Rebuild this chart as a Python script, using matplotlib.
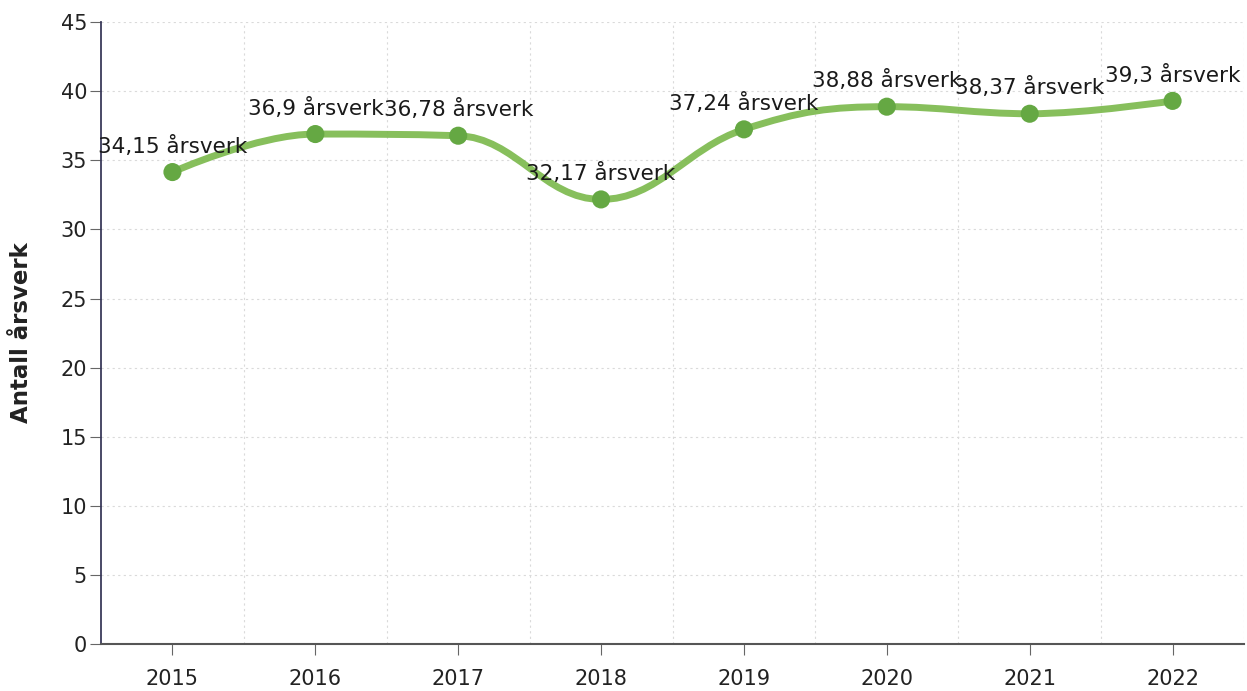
import numpy as np
import matplotlib.pyplot as plt
from matplotlib.path import Path
from matplotlib.patches import PathPatch

# ----------------------------------------------------
# Data
# ----------------------------------------------------

years = ["2015", "2016", "2017", "2018", "2019", "2020", "2021", "2022"]
arsverk = [34.15, 36.9, 36.78, 32.17, 37.24, 38.88, 38.37, 39.3]
labels = ["34,15 årsverk", "36,9 årsverk", "36,78 årsverk", "32,17 årsverk",
          "37,24 årsverk", "38,88 årsverk", "38,37 årsverk", "39,3 årsverk"]
y_ticks = [0, 5, 10, 15, 20, 25, 30, 35, 40, 45]

LINE = "#7ab84a"
MARKER = "#65a843"

# ----------------------------------------------------
# Spline path (Highcharts-style smoothing)
# ----------------------------------------------------


def spline_path(xs, ys, smoothing=1.5):
    n = len(xs)
    denom = smoothing + 1
    left, right = [], []
    for i in range(n):
        px, py = xs[i], ys[i]
        if i == 0 or i == n - 1:
            left.append((px, py))
            right.append((px, py))
            continue
        lx, ly = xs[i - 1], ys[i - 1]
        nx, ny = xs[i + 1], ys[i + 1]
        lcx = (smoothing * px + lx) / denom
        lcy = (smoothing * py + ly) / denom
        rcx = (smoothing * px + nx) / denom
        rcy = (smoothing * py + ny) / denom
        corr = (rcy - lcy) * (rcx - px) / (rcx - lcx) + py - rcy
        lcy += corr
        rcy += corr
        if lcy > ly and lcy > py:
            lcy = max(ly, py)
            rcy = 2 * py - lcy
        elif lcy < ly and lcy < py:
            lcy = min(ly, py)
            rcy = 2 * py - lcy
        if rcy > ny and rcy > py:
            rcy = max(ny, py)
            lcy = 2 * py - rcy
        elif rcy < ny and rcy < py:
            rcy = min(ny, py)
            lcy = 2 * py - rcy
        left.append((lcx, lcy))
        right.append((rcx, rcy))

    verts = [(xs[0], ys[0])]
    codes = [Path.MOVETO]
    for i in range(1, n):
        verts += [right[i - 1], left[i], (xs[i], ys[i])]
        codes += [Path.CURVE4] * 3
    return Path(verts, codes)


# ----------------------------------------------------
# Plot
# ----------------------------------------------------

fig = plt.figure(figsize=(12.47, 6.91), dpi=100)
ax = fig.add_axes([0.081, 0.068, 0.9166, 0.9])

x = np.arange(len(years))

ax.add_patch(PathPatch(spline_path(x, arsverk), facecolor="none",
                       edgecolor=LINE, linewidth=5, alpha=0.9,
                       capstyle="round", zorder=3))
ax.scatter(x, arsverk, s=170, color=MARKER, zorder=4, edgecolors="none")

for xi, yi, lab in zip(x, arsverk, labels):
    ax.annotate(lab, (xi, yi), xytext=(0, 11), textcoords="offset points",
                ha="center", va="bottom", fontsize=15.5, color="#1a1a1a",
                zorder=5)

ax.set_xlim(-0.5, 7.5)
ax.set_ylim(0, 45)
ax.set_xticks(x)
ax.set_xticklabels(years)
ax.set_yticks(y_ticks)

# grid: dotted, horizontal at ticks, vertical between categories
for yv in y_ticks[1:]:
    ax.axhline(yv, color="#dadada", linestyle=(0, (2, 3)), linewidth=0.8, zorder=0)
for xv in np.arange(0.5, len(years), 1.0):
    ax.axvline(xv, color="#dadada", linestyle=(0, (2, 3)), linewidth=0.8, zorder=0)

ax.spines["top"].set_visible(False)
ax.spines["right"].set_visible(False)
ax.spines["left"].set_color("#3a3a5a")
ax.spines["bottom"].set_color("#555555")
ax.spines["left"].set_linewidth(1.3)
ax.spines["bottom"].set_linewidth(1.5)

ax.tick_params(axis="y", length=8, color="#666666", labelsize=15, pad=2,
               labelcolor="#222222")
ax.tick_params(axis="x", length=8, color="#666666", labelsize=15, pad=10,
               labelcolor="#222222")

ax.set_ylabel("Antall årsverk", fontsize=16.5, fontweight="bold", labelpad=20,
              color="#222222")

fig.savefig("out.png", dpi=100)
